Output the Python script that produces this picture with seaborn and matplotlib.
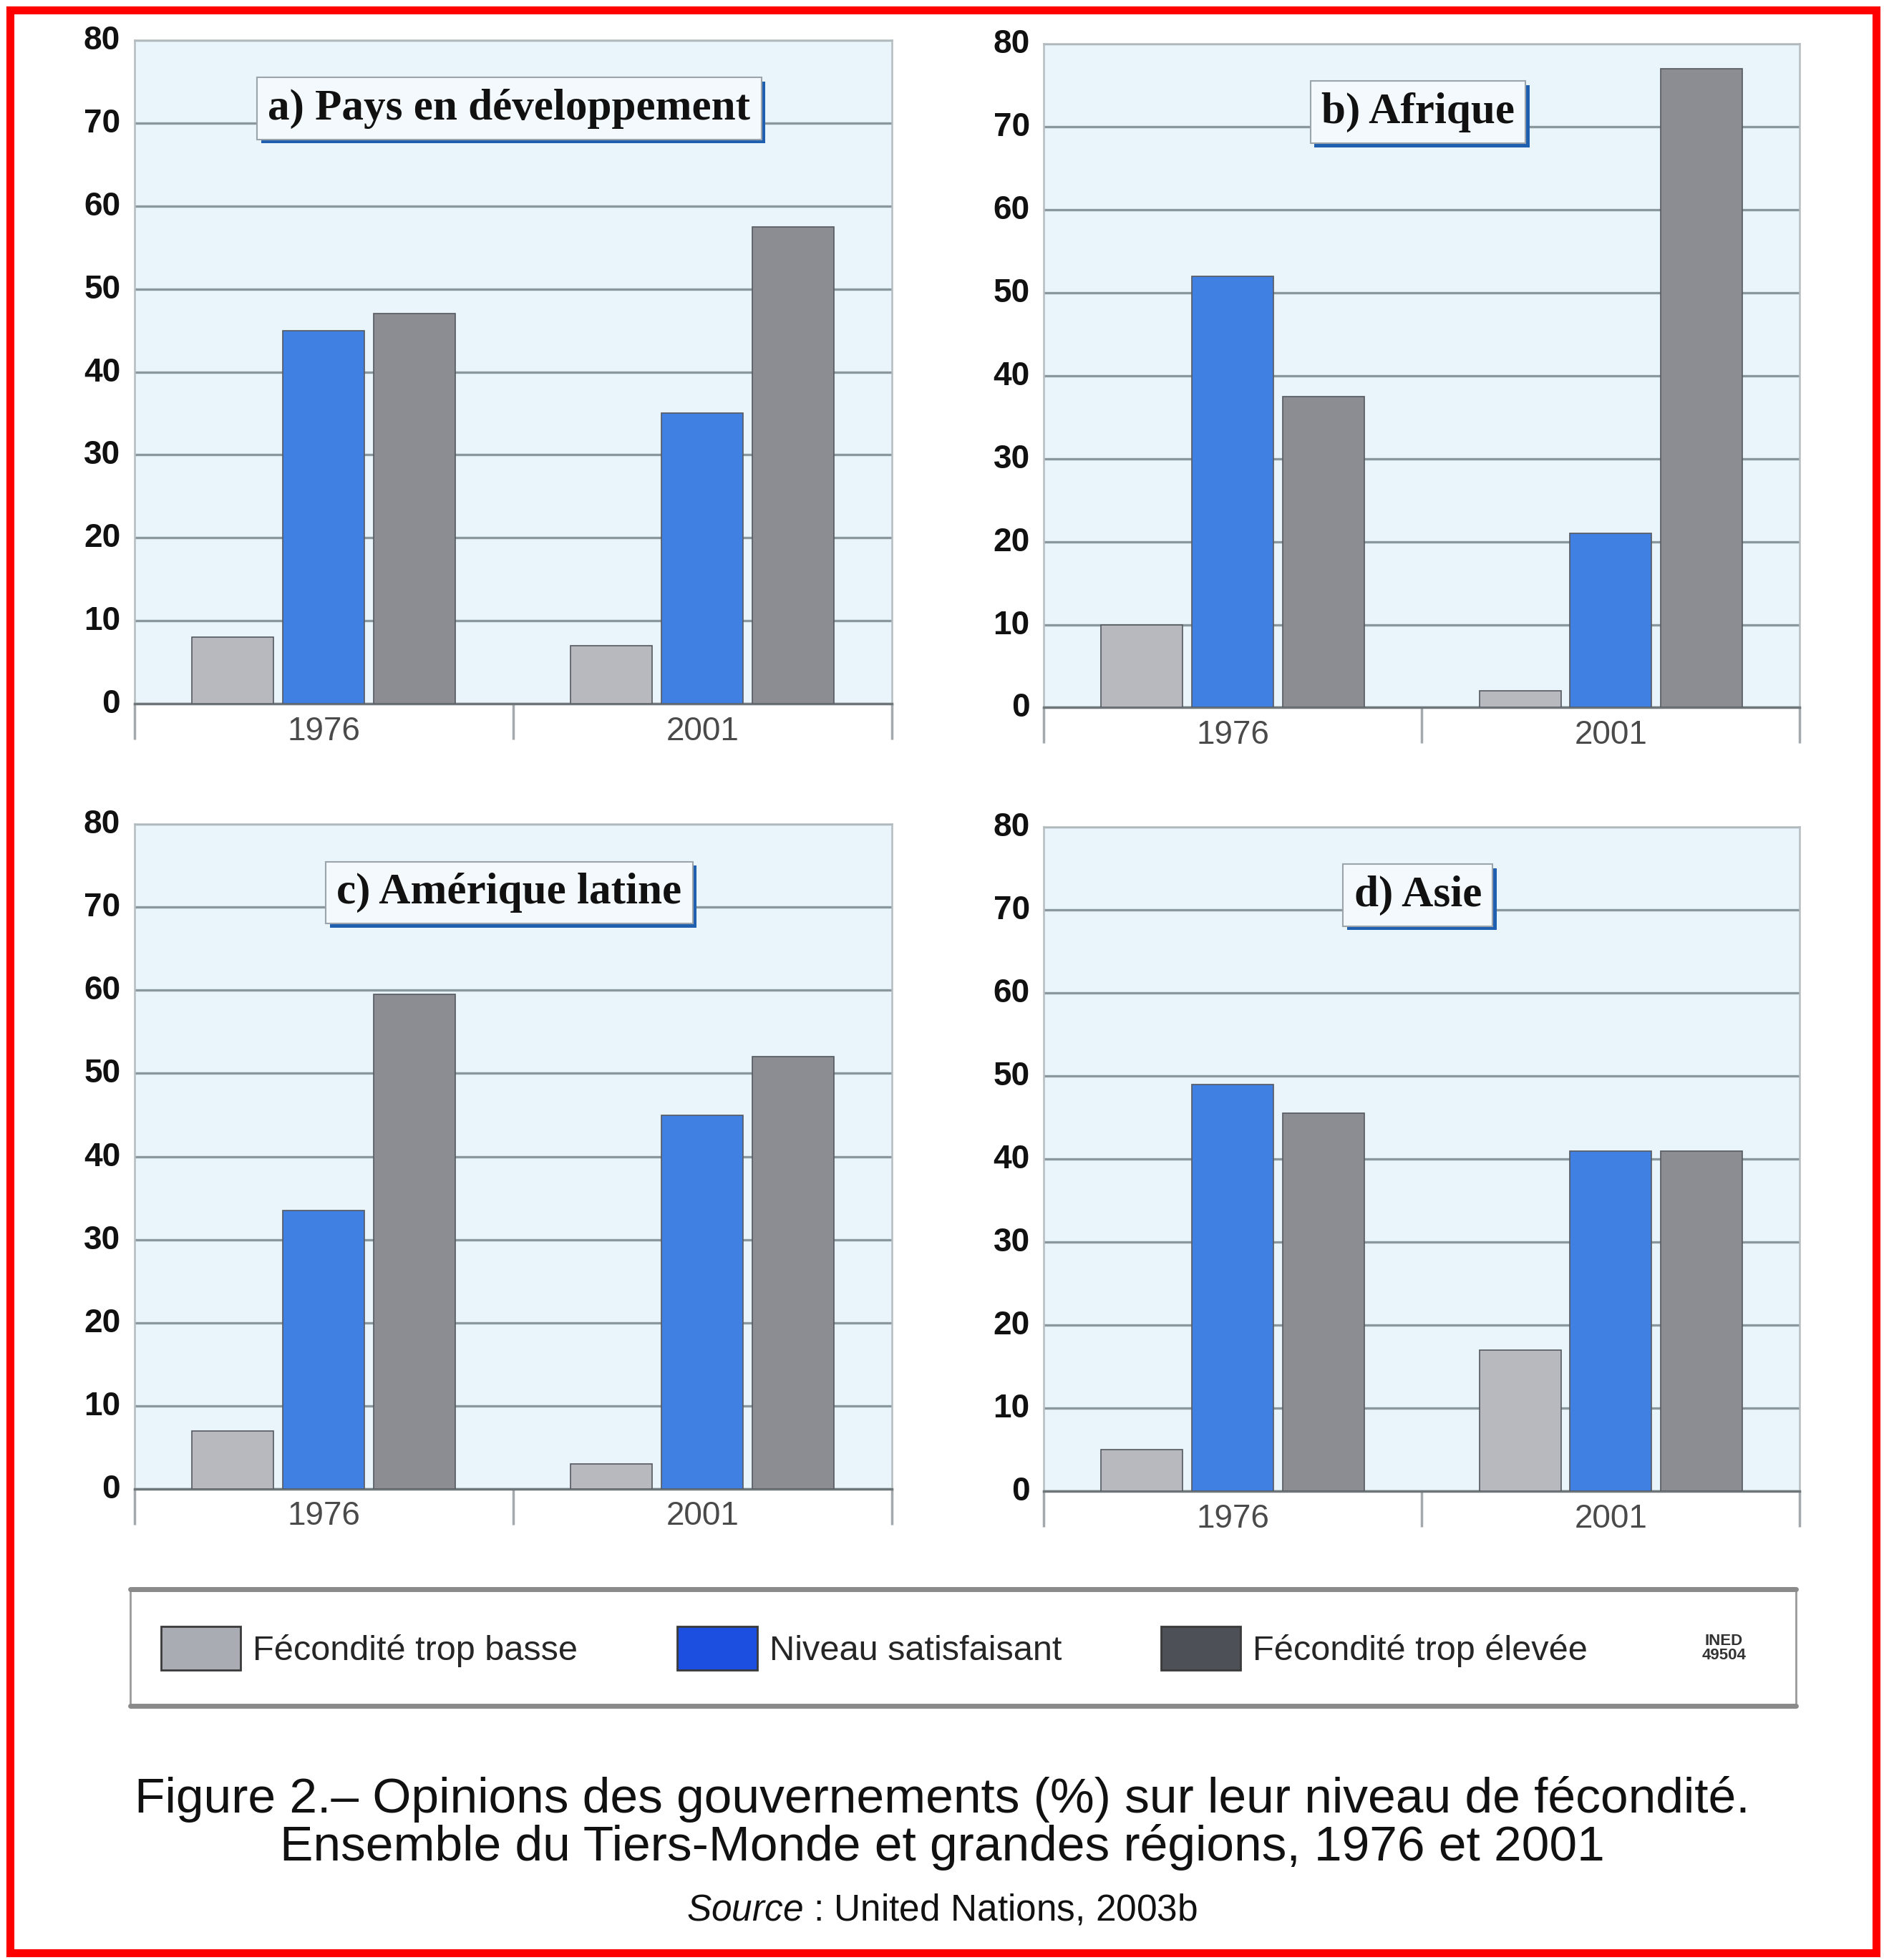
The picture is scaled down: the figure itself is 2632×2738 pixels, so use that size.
import matplotlib
matplotlib.use("Agg")
import matplotlib.pyplot as plt
import matplotlib.patheffects as pe
import matplotlib.transforms as mtransforms
from matplotlib.patches import Patch, Rectangle
import seaborn as sns
import pandas as pd

# Données (% de gouvernements)
annees = ["1976", "2001"]
opinions = ["Fécondité trop basse", "Niveau satisfaisant", "Fécondité trop élevée"]
titres = ["a) Pays en développement", "b) Afrique", "c) Amérique latine", "d) Asie"]

pays_dev = [[8, 45, 47], [7, 35, 57.5]]
afrique = [[10, 52, 37.5], [2, 21, 77]]
amerique_latine = [[7, 33.5, 59.5], [3, 45, 52]]
asie = [[5, 49, 45.5], [17, 41, 41]]
regions = [pays_dev, afrique, amerique_latine, asie]

couleurs_barres = ["#b7b9bf", "#3f80e2", "#8b8d93"]
couleurs_legende = ["#a9adb3", "#1c4fe0", "#4d5157"]

sns.set_style("white")
plt.rcParams["font.family"] = ["Liberation Sans", "DejaVu Sans"]
plt.rcParams["mathtext.fontset"] = "custom"
plt.rcParams["mathtext.rm"] = "Liberation Sans"
plt.rcParams["mathtext.it"] = "Liberation Sans:italic"

fig = plt.figure(figsize=(26.32, 27.38), dpi=100)

positions = [
    [0.0713, 0.641, 0.402, 0.3385],
    [0.554, 0.639, 0.4013, 0.3386],
    [0.0713, 0.2404, 0.402, 0.3391],
    [0.554, 0.2391, 0.4013, 0.3391],
]

decalage = mtransforms.ScaledTranslation(0, 0.04, fig.dpi_scale_trans)

for pos, titre, valeurs in zip(positions, titres, regions):
    ax = fig.add_axes(pos)
    lignes = []
    for annee, vals in zip(annees, valeurs):
        for opinion, v in zip(opinions, vals):
            lignes.append({"annee": annee, "opinion": opinion, "pct": v})
    df = pd.DataFrame(lignes)
    sns.barplot(data=df, x="annee", y="pct", hue="opinion", order=annees,
                hue_order=opinions, palette=couleurs_barres, saturation=1,
                width=0.72, gap=0.1, edgecolor="#555a60", linewidth=1.2,
                legend=False, ax=ax, zorder=3)
    ax.set_facecolor("#e9f5fb")
    ax.set_ylim(0, 80)
    ax.set_xlim(-0.5, 1.5)
    ax.set_yticks(range(0, 81, 10))
    ax.yaxis.grid(True, color="#8a989e", linewidth=2.4)
    ax.set_axisbelow(True)
    ax.set_xlabel("")
    ax.set_ylabel("")
    for s in ["top", "left", "right"]:
        ax.spines[s].set_color("#b5bcc0")
        ax.spines[s].set_linewidth(1.8)
    ax.spines["bottom"].set_color("#6f767a")
    ax.spines["bottom"].set_linewidth(2.5)
    ax.tick_params(axis="y", length=0, labelsize=33, pad=14, labelcolor="#111111")
    for lab in ax.get_yticklabels():
        lab.set_fontweight("bold")
        lab.set_transform(lab.get_transform() + decalage)
    ax.tick_params(axis="x", which="major", length=0, labelsize=33, pad=12,
                   labelcolor="#4a4a4a")
    ax.set_xticks([-0.5, 0.5, 1.5], minor=True)
    ax.tick_params(axis="x", which="minor", bottom=True, length=36, width=2.5,
                   color="#a3a9ad", direction="out")
    t = ax.text(0.495, 0.897, titre, transform=ax.transAxes, ha="center", va="center",
                family=["Liberation Serif", "DejaVu Serif"], fontweight="bold",
                fontsize=44, color="#111111", zorder=6,
                bbox=dict(boxstyle="square,pad=0.25", fc="#f3f9fc", ec="#9aa4aa", lw=1.5))
    t.get_bbox_patch().set_path_effects(
        [pe.SimplePatchShadow(offset=(4, -4), shadow_rgbFace="#1f5fb0", alpha=1), pe.Normal()])

# Cadre de la légende
fig.patches.append(Rectangle((0.0693, 0.1295), 0.884, 0.0596, transform=fig.transFigure,
                             fc="white", ec="#9a9a9a", lw=2))
fig.lines.append(plt.Line2D([0.0693, 0.9533], [0.1891, 0.1891], transform=fig.transFigure,
                            color="#8a8a8a", lw=5))
fig.lines.append(plt.Line2D([0.0693, 0.9533], [0.1295, 0.1295], transform=fig.transFigure,
                            color="#8a8a8a", lw=5))

poignees = [Patch(facecolor=c, edgecolor="#3a3a3a", linewidth=2) for c in couleurs_legende]
fig.legend(poignees, opinions, ncol=3, loc="center left", bbox_to_anchor=(0.0853, 0.159),
           frameon=False, fontsize=35, handlelength=2.3, handleheight=1.55,
           handletextpad=0.35, columnspacing=2.85, borderpad=0, borderaxespad=0)
fig.text(0.915, 0.159, "INED\n49504", ha="center", va="center", fontsize=16,
         fontweight="bold", color="#333333", linespacing=0.9)

# Légende de la figure
fig.text(0.5, 0.082, "Figure 2.– Opinions des gouvernements (%) sur leur niveau de fécondité.",
         ha="center", va="center", fontsize=50, color="#111111")
fig.text(0.5, 0.0575, "Ensemble du Tiers-Monde et grandes régions, 1976 et 2001",
         ha="center", va="center", fontsize=50, color="#111111")
fig.text(0.5, 0.0252, r"$\it{Source}$ : United Nations, 2003b", ha="center", va="center",
         fontsize=37, color="#111111")

fig.patches.append(Rectangle((0.0055, 0.0035), 0.9905, 0.9915, transform=fig.transFigure,
                             fill=False, ec="#ff0000", lw=8))

fig.savefig("out.png", dpi=100, facecolor="white")
